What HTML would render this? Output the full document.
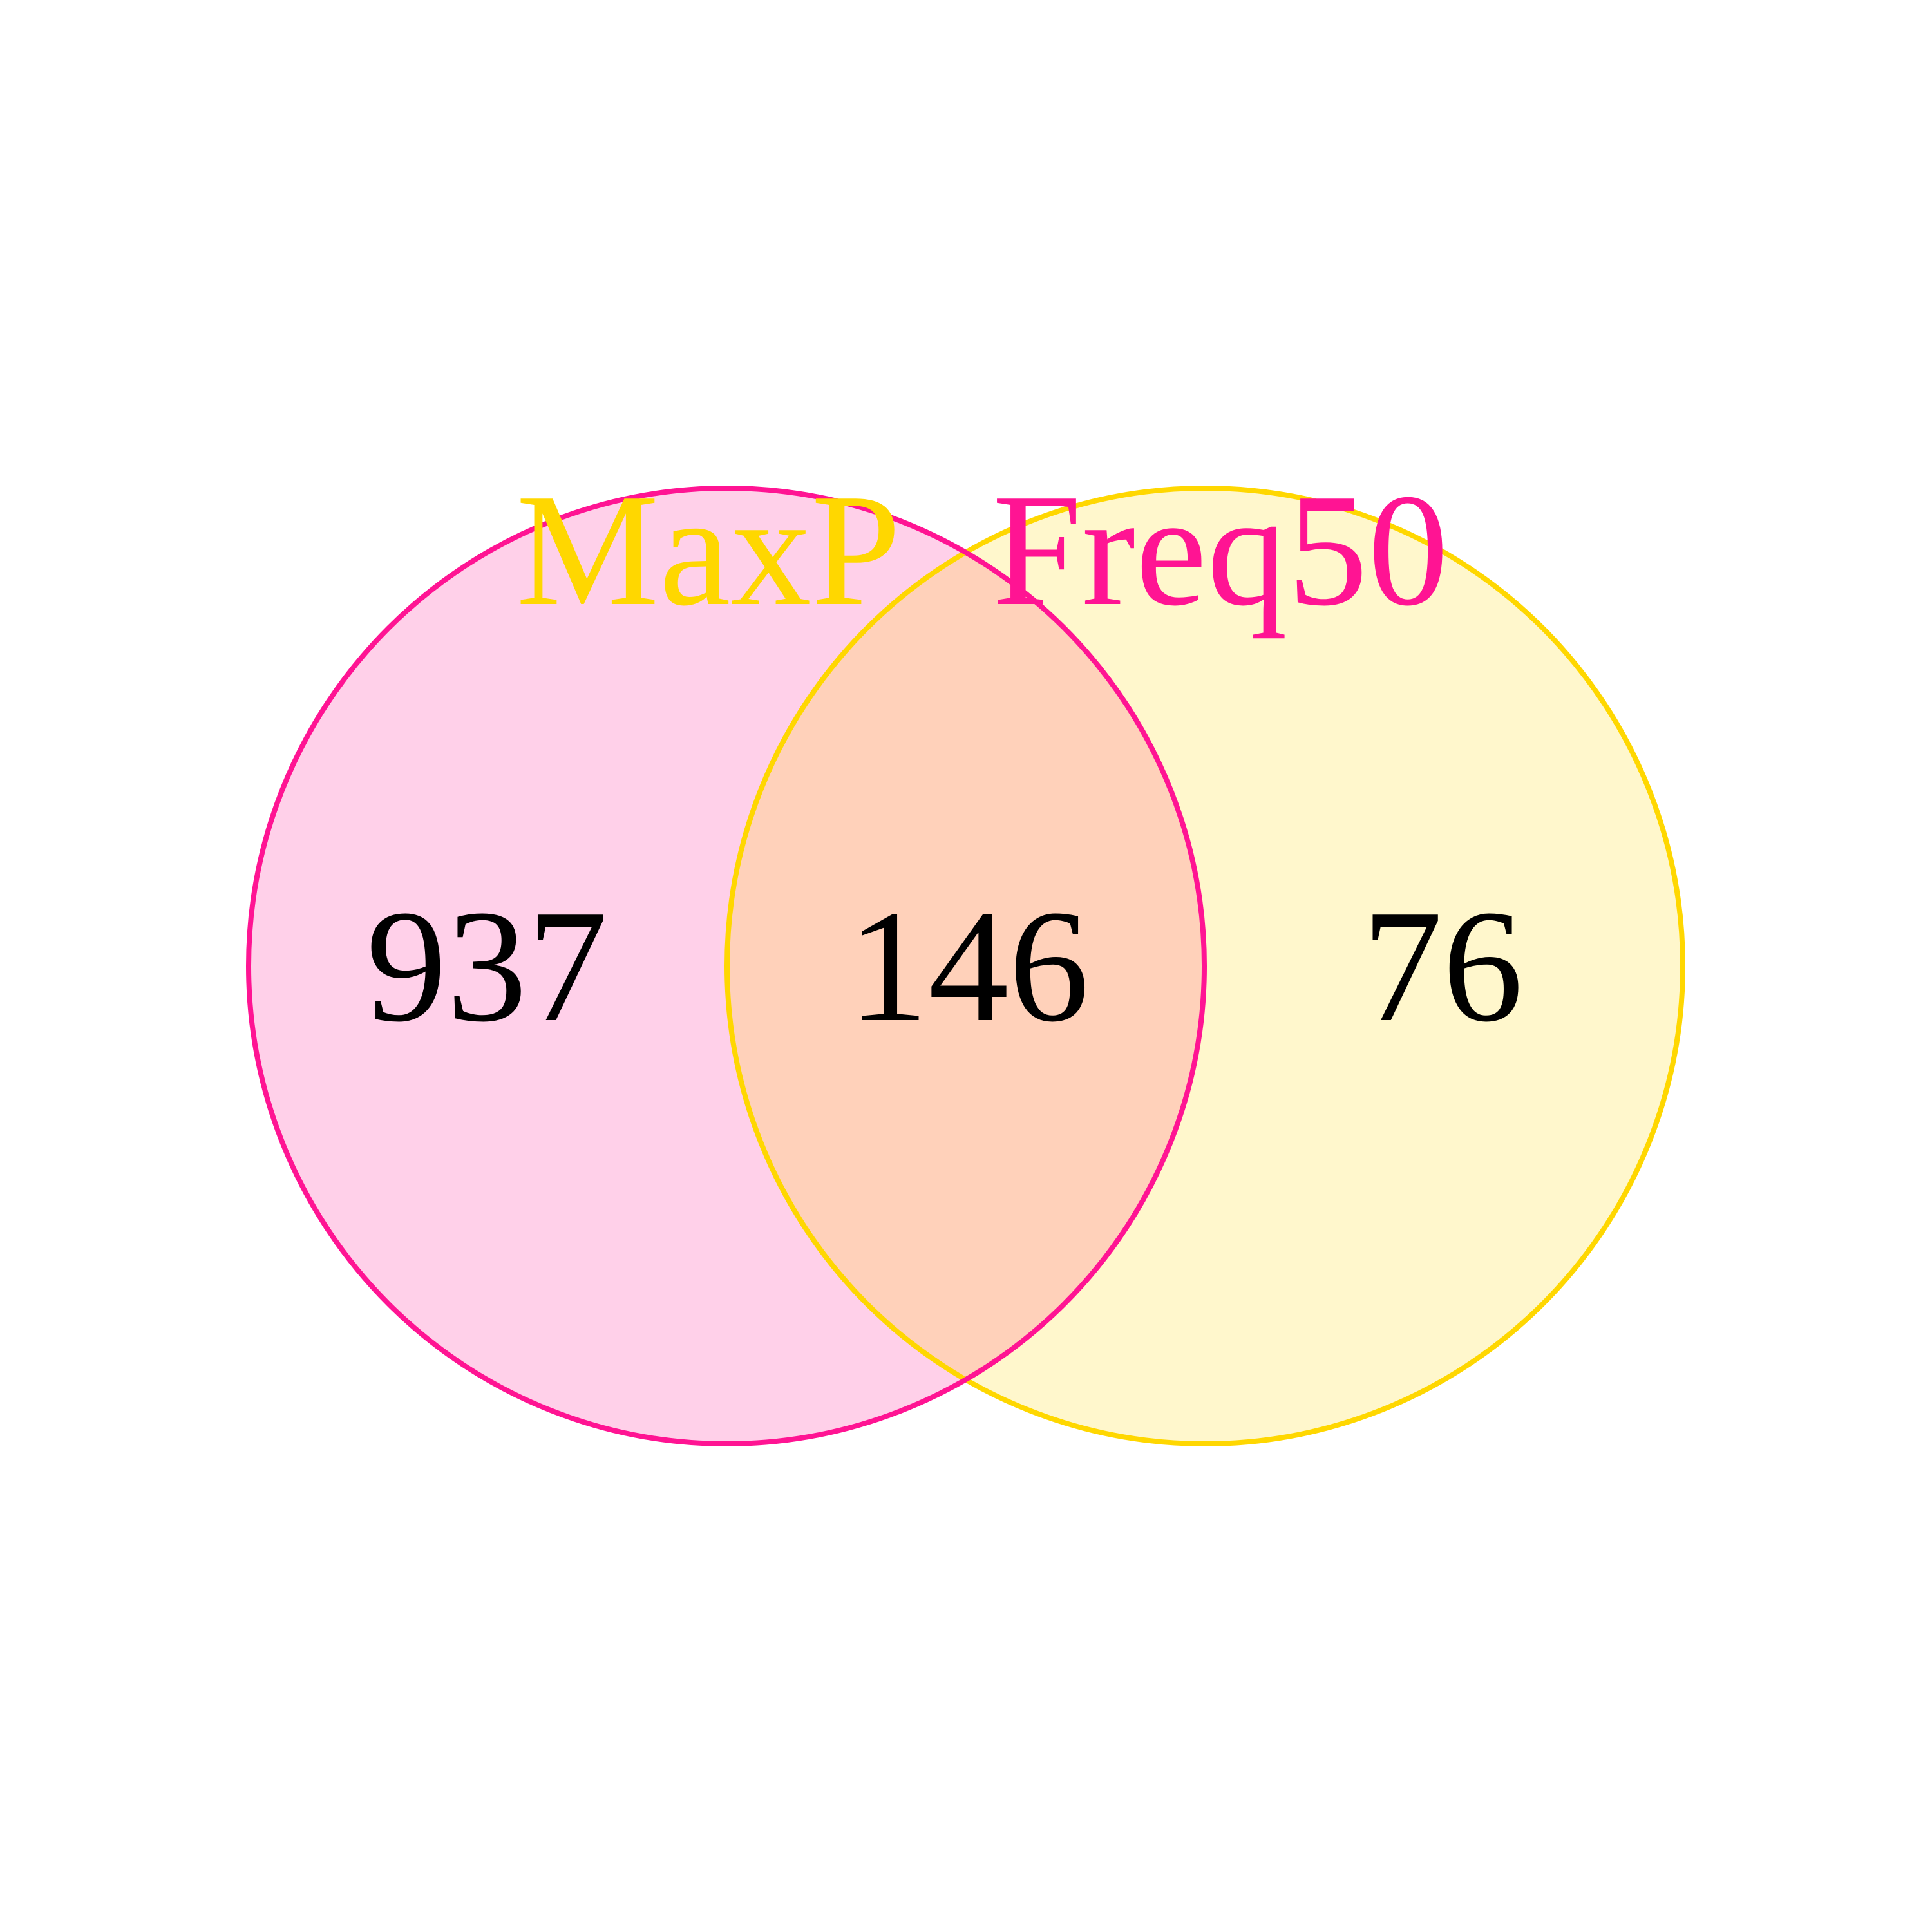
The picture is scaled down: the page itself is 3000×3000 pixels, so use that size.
<!DOCTYPE html>
<html><head><meta charset="utf-8"><style>html,body{margin:0;padding:0;background:#fff}svg{display:block}</style></head>
<body>
<svg id="chart" width="3000" height="3000" viewBox="0 0 3000 3000" xmlns="http://www.w3.org/2000/svg"></svg>
<script>
const setNames = ["MaxP", "Freq50"];
const regionCounts = [937, 146, 76];
const setColors = ["#FF1493", "#FFD700"];
const labelColors = ["#FFD700", "#FF1493"];

const svg = document.getElementById('chart');
const NS = 'http://www.w3.org/2000/svg';
const cy = 1500, r = 742;
const cxs = [1128, 1871];
const font = '"Liberation Serif", "Times New Roman", serif';

for (let i = 0; i < 2; i++) {
  const c = document.createElementNS(NS, 'circle');
  
  
  c.setAttribute('cx', cxs[i]); c.setAttribute('cy', cy); c.setAttribute('r', r);
  c.setAttribute('fill', setColors[i]); c.setAttribute('fill-opacity', '0.2');
  svg.appendChild(c);
}
for (let i = 1; i >= 0; i--) {
  const c = document.createElementNS(NS, 'circle');
  
  
  c.setAttribute('cx', cxs[i]); c.setAttribute('cy', cy); c.setAttribute('r', r);
  c.setAttribute('fill', 'none');
  c.setAttribute('stroke', setColors[i]); c.setAttribute('stroke-width', '8');
  svg.appendChild(c);
}
const labelX = [1100, 1895];
for (let i = 0; i < 2; i++) {
  const t = document.createElementNS(NS, 'text');
  
  
  t.setAttribute('x', labelX[i]); t.setAttribute('y', 938);
  t.setAttribute('text-anchor', 'middle');
  t.setAttribute('font-family', font); t.setAttribute('font-size', '250');
  t.setAttribute('fill', labelColors[i]);
  t.textContent = setNames[i];
  svg.appendChild(t);
}
const countX = [756, 1504, 2240];
for (let i = 0; i < 3; i++) {
  const t = document.createElementNS(NS, 'text');
  
  
  t.setAttribute('x', countX[i]); t.setAttribute('y', 1584);
  t.setAttribute('text-anchor', 'middle');
  t.setAttribute('font-family', font); t.setAttribute('font-size', '250');
  t.setAttribute('fill', '#000');
  t.textContent = regionCounts[i];
  svg.appendChild(t);
}
</script>
</body></html>
